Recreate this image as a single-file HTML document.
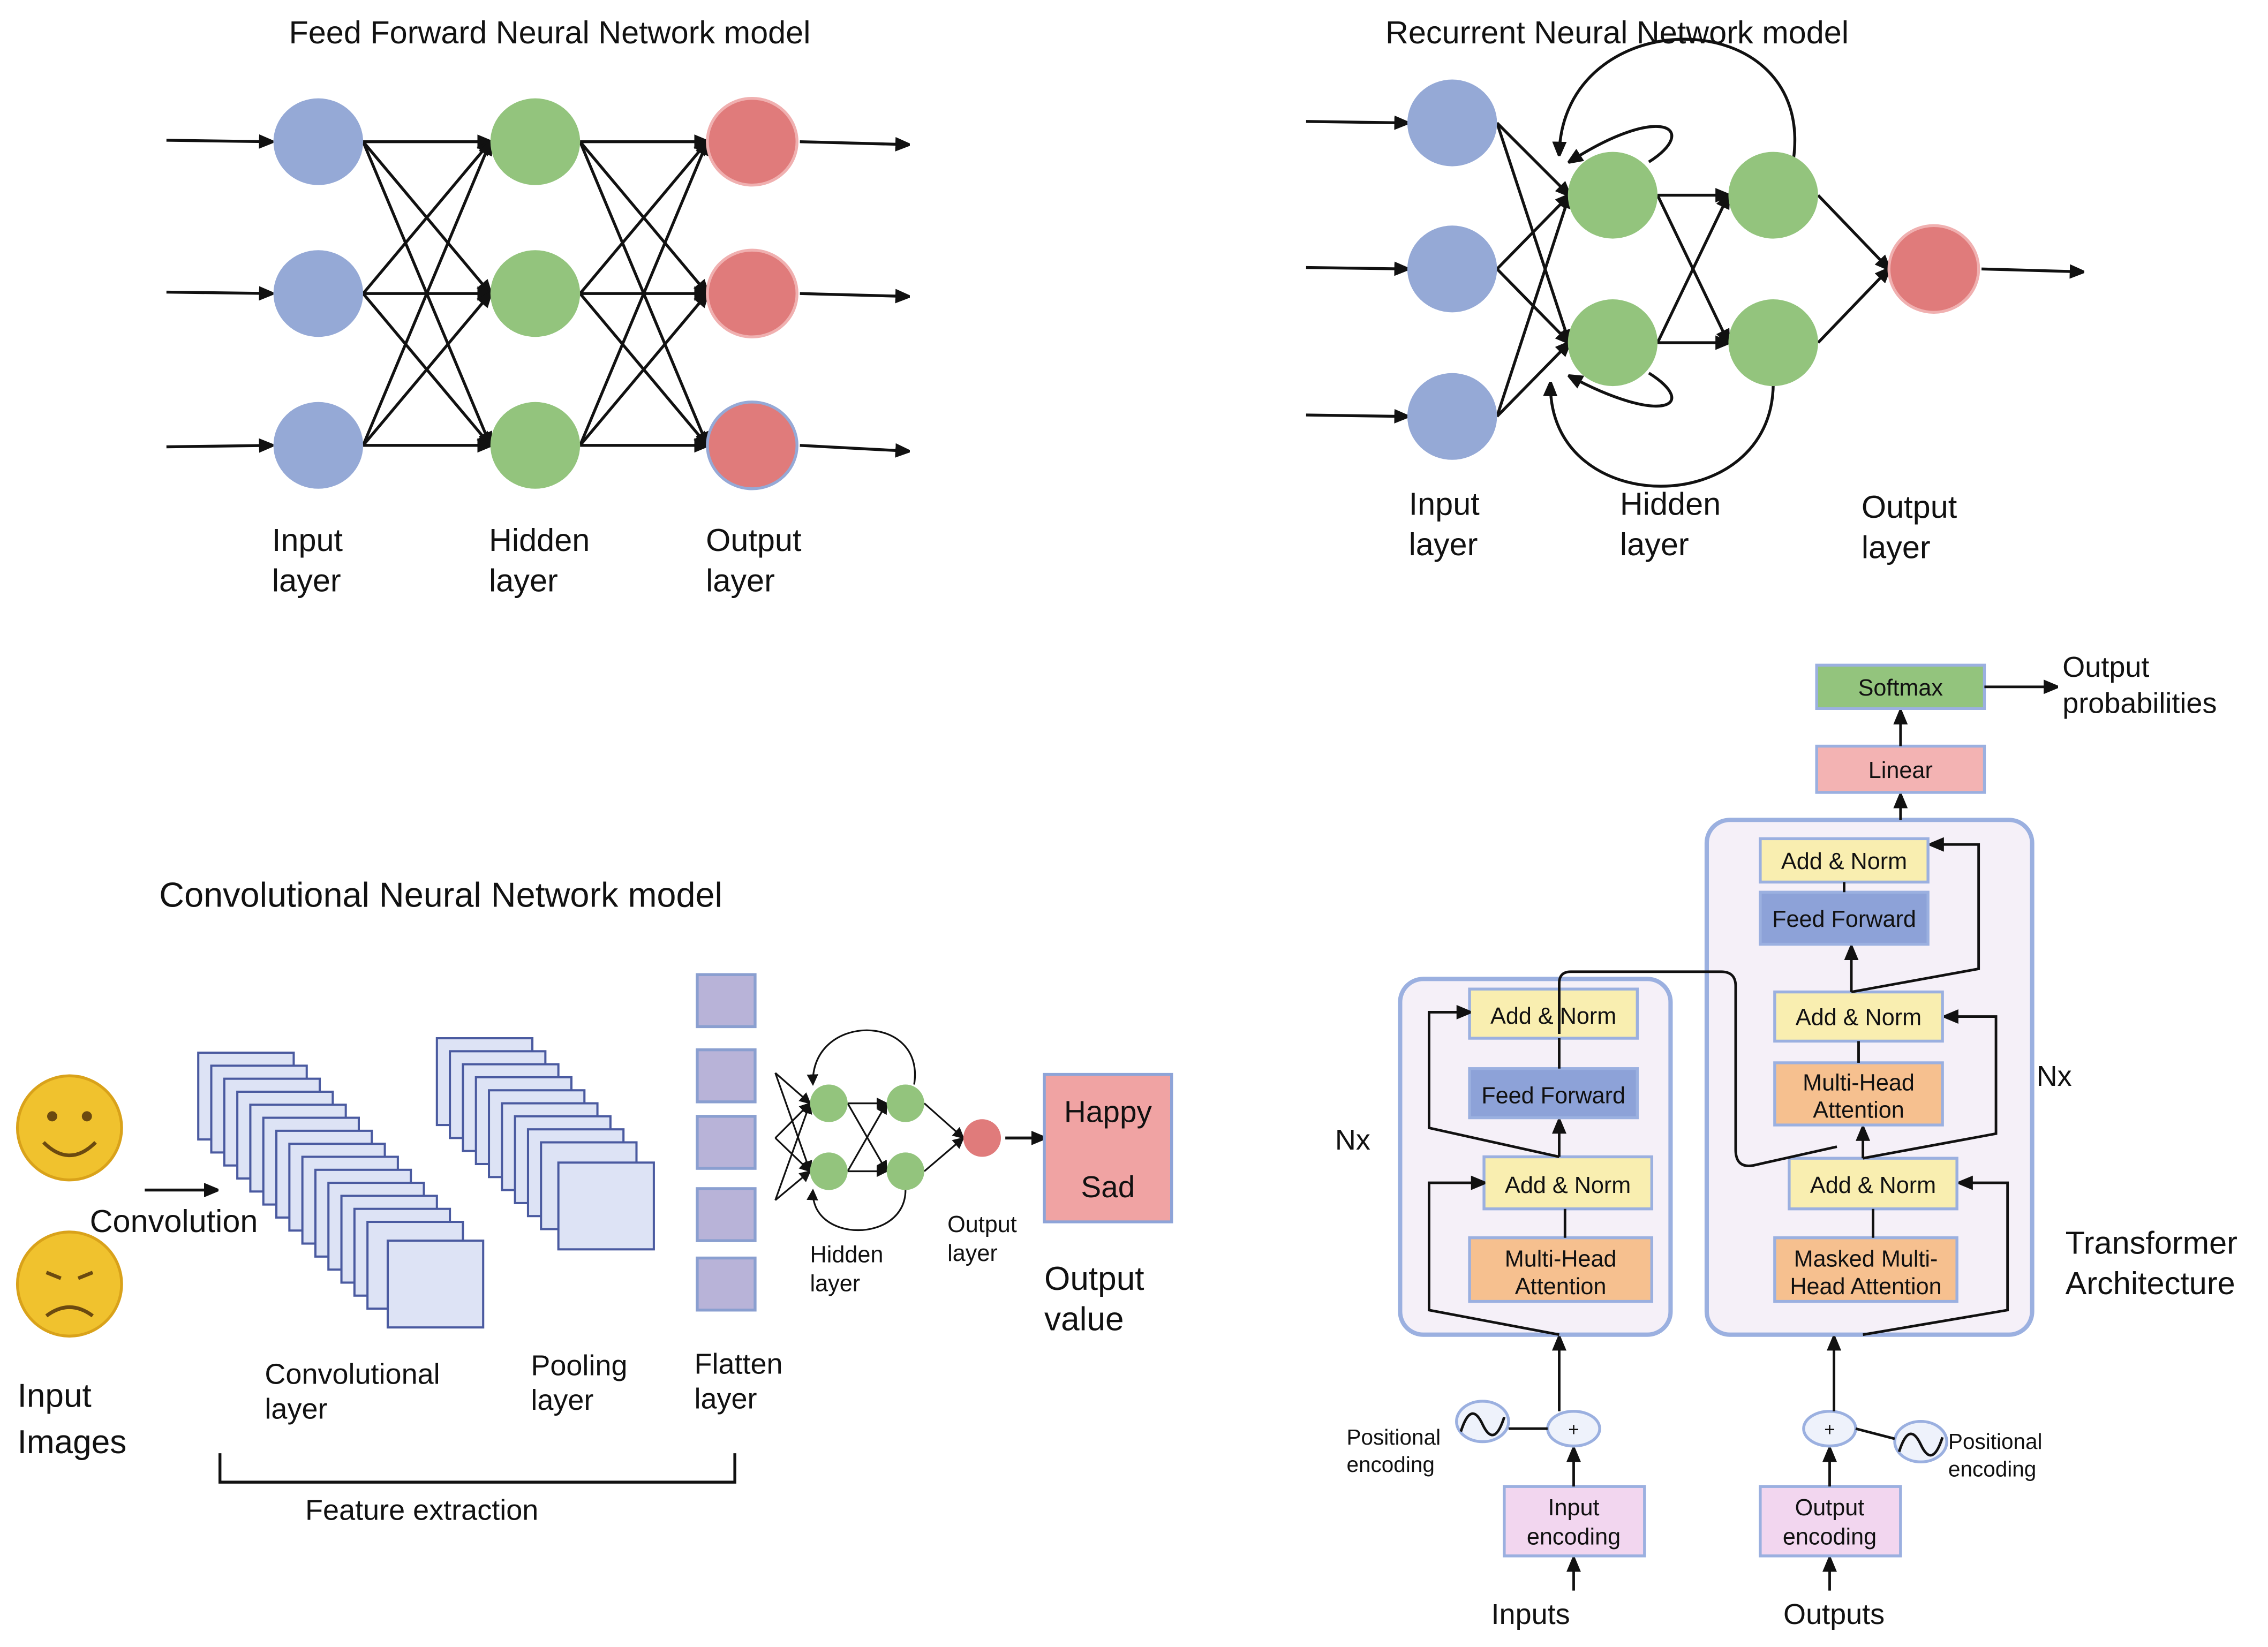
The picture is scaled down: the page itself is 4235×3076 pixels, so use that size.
<!DOCTYPE html>
<html><head><meta charset="utf-8"><style>html,body{margin:0;padding:0;background:#fff}svg{display:block}text{font-family:"Liberation Sans",sans-serif;fill:#111}</style></head><body>
<svg width="4235" height="3076" viewBox="0 0 1568 1139" xmlns="http://www.w3.org/2000/svg">
<defs>
<marker id="a" markerWidth="10" markerHeight="10" refX="9" refY="5" orient="auto" markerUnits="userSpaceOnUse"><path d="M0,0 L12,5 L0,10 z" fill="#111"/></marker>
<marker id="s" markerWidth="8" markerHeight="8" refX="7" refY="4" orient="auto" markerUnits="userSpaceOnUse"><path d="M0,0 L8,4 L0,8 z" fill="#111"/></marker>
</defs>
<rect width="1568" height="1139" fill="#fff"/>
<g stroke="#111" stroke-width="2" fill="none" marker-end="url(#a)">
<!-- FFNN -->
<line x1="115" y1="97" x2="188" y2="98"/><line x1="115" y1="202" x2="188" y2="203"/><line x1="115" y1="309" x2="188" y2="308"/>
<line x1="553" y1="98" x2="628" y2="100"/><line x1="553" y1="203" x2="628" y2="205"/><line x1="553" y1="308" x2="628" y2="312"/>
<line x1="251" y1="98" x2="339" y2="98"/><line x1="251" y1="98" x2="339" y2="203"/><line x1="251" y1="98" x2="339" y2="308"/>
<line x1="251" y1="203" x2="339" y2="98"/><line x1="251" y1="203" x2="339" y2="203"/><line x1="251" y1="203" x2="339" y2="308"/>
<line x1="251" y1="308" x2="339" y2="98"/><line x1="251" y1="308" x2="339" y2="203"/><line x1="251" y1="308" x2="339" y2="308"/>
<line x1="401" y1="98" x2="489" y2="98"/><line x1="401" y1="98" x2="489" y2="203"/><line x1="401" y1="98" x2="489" y2="308"/>
<line x1="401" y1="203" x2="489" y2="98"/><line x1="401" y1="203" x2="489" y2="203"/><line x1="401" y1="203" x2="489" y2="308"/>
<line x1="401" y1="308" x2="489" y2="98"/><line x1="401" y1="308" x2="489" y2="203"/><line x1="401" y1="308" x2="489" y2="308"/>
<!-- RNN -->
<line x1="903" y1="84" x2="973" y2="85"/><line x1="903" y1="185" x2="973" y2="186"/><line x1="903" y1="287" x2="973" y2="288"/>
<line x1="1035" y1="85" x2="1085" y2="135"/><line x1="1035" y1="85" x2="1085" y2="237"/><line x1="1035" y1="186" x2="1085" y2="135"/><line x1="1035" y1="186" x2="1085" y2="237"/><line x1="1035" y1="288" x2="1085" y2="135"/><line x1="1035" y1="288" x2="1085" y2="237"/>
<line x1="1146" y1="135" x2="1195" y2="135"/><line x1="1146" y1="135" x2="1195" y2="237"/><line x1="1146" y1="237" x2="1195" y2="135"/><line x1="1146" y1="237" x2="1195" y2="237"/>
<line x1="1257" y1="135" x2="1306" y2="186"/><line x1="1257" y1="237" x2="1306" y2="186"/>
<line x1="1370" y1="186" x2="1440" y2="188"/>
<path d="M1240 110 C1255 0,1080 0,1078 107"/>
<path d="M1226 265 C1226 360,1070 360,1072 265"/>
<path d="M1140 112 C1175 90,1150 70,1085 112"/>
<path d="M1140 258 C1175 280,1150 295,1085 260"/>
<!-- CNN -->
<line x1="100" y1="823" x2="150" y2="823"/>
<line x1="695" y1="787" x2="722" y2="787"/>
</g>
<g fill="#95a9d6"><ellipse cx="220" cy="98" rx="31" ry="30"/><ellipse cx="220" cy="203" rx="31" ry="30"/><ellipse cx="220" cy="308" rx="31" ry="30"/>
<ellipse cx="1004" cy="85" rx="31" ry="30"/><ellipse cx="1004" cy="186" rx="31" ry="30"/><ellipse cx="1004" cy="288" rx="31" ry="30"/></g>
<g fill="#93c47d"><ellipse cx="370" cy="98" rx="31" ry="30"/><ellipse cx="370" cy="203" rx="31" ry="30"/><ellipse cx="370" cy="308" rx="31" ry="30"/>
<ellipse cx="1115" cy="135" rx="31" ry="30"/><ellipse cx="1115" cy="237" rx="31" ry="30"/><ellipse cx="1226" cy="135" rx="31" ry="30"/><ellipse cx="1226" cy="237" rx="31" ry="30"/></g>
<g fill="#e07b7b" stroke="#f0b0b0" stroke-width="2"><ellipse cx="520" cy="98" rx="31" ry="30"/><ellipse cx="520" cy="203" rx="31" ry="30"/><ellipse cx="520" cy="308" rx="31" ry="30" stroke="#95a9d6"/><ellipse cx="1337" cy="186" rx="31" ry="30"/></g>
<g font-size="22">
<text x="380" y="30" text-anchor="middle">Feed Forward Neural Network model</text>
<text x="1118" y="30" text-anchor="middle">Recurrent Neural Network model</text>
<text x="188" y="381">Input</text><text x="188" y="409">layer</text>
<text x="338" y="381">Hidden</text><text x="338" y="409">layer</text>
<text x="488" y="381">Output</text><text x="488" y="409">layer</text>
<text x="974" y="356">Input</text><text x="974" y="384">layer</text>
<text x="1120" y="356">Hidden</text><text x="1120" y="384">layer</text>
<text x="1287" y="358">Output</text><text x="1287" y="386">layer</text>
</g>
<!-- CNN -->
<text x="110" y="627" font-size="24">Convolutional Neural Network model</text>
<g fill="#f0c22e" stroke="#d9a21a" stroke-width="2"><circle cx="48" cy="780" r="36"/><circle cx="48" cy="888" r="36"/></g>
<g stroke="#6b4a10" stroke-width="2.5" fill="none"><path d="M30 790 Q48 808 66 790"/><path d="M32 910 Q48 898 64 910"/><path d="M32 880 l10 4 M64 880 l-10 4"/></g>
<g fill="#6b4a10"><circle cx="36" cy="772" r="3.5"/><circle cx="60" cy="772" r="3.5"/></g>
<text x="62" y="852" font-size="22">Convolution</text>
<g fill="#dde3f5" stroke="#4a5aa0" stroke-width="1.5">
<rect x="137" y="728" width="66" height="60"/><rect x="146" y="737" width="66" height="60"/><rect x="155" y="746" width="66" height="60"/><rect x="164" y="755" width="66" height="60"/><rect x="173" y="764" width="66" height="60"/><rect x="182" y="773" width="66" height="60"/><rect x="191" y="782" width="66" height="60"/><rect x="200" y="791" width="66" height="60"/><rect x="209" y="800" width="66" height="60"/><rect x="218" y="809" width="66" height="60"/><rect x="227" y="818" width="66" height="60"/><rect x="236" y="827" width="66" height="60"/><rect x="245" y="836" width="66" height="60"/><rect x="254" y="845" width="66" height="60"/><rect x="268" y="858" width="66" height="60"/>
<rect x="302" y="718" width="66" height="60"/><rect x="311" y="727" width="66" height="60"/><rect x="320" y="736" width="66" height="60"/><rect x="329" y="745" width="66" height="60"/><rect x="338" y="754" width="66" height="60"/><rect x="347" y="763" width="66" height="60"/><rect x="356" y="772" width="66" height="60"/><rect x="365" y="781" width="66" height="60"/><rect x="374" y="790" width="66" height="60"/><rect x="386" y="804" width="66" height="60"/>
</g>
<g fill="#b8b3d8" stroke="#8a9fd0" stroke-width="2"><rect x="482" y="674" width="40" height="36"/><rect x="482" y="726" width="40" height="36"/><rect x="482" y="772" width="40" height="36"/><rect x="482" y="822" width="40" height="36"/><rect x="482" y="870" width="40" height="36"/></g>
<g stroke="#111" stroke-width="1.2" fill="none" marker-end="url(#s)">
<line x1="536" y1="742" x2="560" y2="763"/><line x1="536" y1="742" x2="560" y2="810"/><line x1="536" y1="787" x2="560" y2="763"/><line x1="536" y1="787" x2="560" y2="810"/><line x1="536" y1="830" x2="560" y2="763"/><line x1="536" y1="830" x2="560" y2="810"/>
<line x1="586" y1="763" x2="613" y2="763"/><line x1="586" y1="763" x2="613" y2="810"/><line x1="586" y1="810" x2="613" y2="763"/><line x1="586" y1="810" x2="613" y2="810"/>
<line x1="639" y1="763" x2="666" y2="787"/><line x1="639" y1="810" x2="666" y2="787"/>
<path d="M632 750 C640 700,560 700,562 750"/><path d="M626 823 C626 860,560 860,562 823"/>
</g>
<g fill="#93c47d"><circle cx="573" cy="763" r="13"/><circle cx="573" cy="810" r="13"/><circle cx="626" cy="763" r="13"/><circle cx="626" cy="810" r="13"/></g>
<circle cx="679" cy="787" r="13" fill="#e07b7b"/>
<rect x="722" y="743" width="88" height="102" fill="#f0a3a3" stroke="#8ea4d8" stroke-width="2"/>
<text x="766" y="776" font-size="21" text-anchor="middle">Happy</text><text x="766" y="828" font-size="21" text-anchor="middle">Sad</text>
<g font-size="20"><text x="183" y="957">Convolutional</text><text x="183" y="981">layer</text><text x="367" y="951">Pooling</text><text x="367" y="975">layer</text><text x="480" y="950">Flatten</text><text x="480" y="974">layer</text><text x="211" y="1051">Feature extraction</text></g>
<g font-size="16"><text x="560" y="873">Hidden</text><text x="560" y="893">layer</text><text x="655" y="852">Output</text><text x="655" y="872">layer</text></g>
<g font-size="23"><text x="722" y="892">Output</text><text x="722" y="920">value</text><text x="12" y="973">Input</text><text x="12" y="1005">Images</text></g>
<path d="M152 1005 V1025 H508 V1005" stroke="#111" stroke-width="2" fill="none"/>
<!-- Transformer -->
<rect x="968" y="677" width="187" height="246" rx="16" fill="#f5f0f8" stroke="#9bb0e0" stroke-width="3"/>
<rect x="1180" y="567" width="225" height="356" rx="16" fill="#f5f0f8" stroke="#9bb0e0" stroke-width="3"/>
<g stroke="#9bb0e0" stroke-width="2">
<rect x="1016" y="684" width="116" height="34" fill="#f9eeb0"/><rect x="1016" y="739" width="116" height="34" fill="#8da2d8"/><rect x="1026" y="800" width="116" height="36" fill="#f9eeb0"/><rect x="1016" y="856" width="126" height="44" fill="#f6c08f"/>
<rect x="1217" y="580" width="116" height="30" fill="#f9eeb0"/><rect x="1217" y="617" width="116" height="36" fill="#8da2d8"/><rect x="1227" y="686" width="116" height="34" fill="#f9eeb0"/><rect x="1227" y="735" width="116" height="43" fill="#f6c08f"/><rect x="1237" y="801" width="116" height="35" fill="#f9eeb0"/><rect x="1227" y="856" width="126" height="44" fill="#f6c08f"/>
<rect x="1256" y="516" width="116" height="32" fill="#f3b3b3"/><rect x="1256" y="460" width="116" height="30" fill="#93c47d"/>
<rect x="1040" y="1028" width="97" height="48" fill="#f2d6ef"/><rect x="1217" y="1028" width="97" height="48" fill="#f2d6ef"/>
<ellipse cx="1088" cy="988" rx="18" ry="12" fill="#eef2fb"/><ellipse cx="1265" cy="988" rx="18" ry="12" fill="#eef2fb"/>
<ellipse cx="1025" cy="983" rx="18" ry="14" fill="#eef2fb"/><ellipse cx="1328" cy="997" rx="18" ry="14" fill="#eef2fb"/>
</g>
<g stroke="#111" stroke-width="1.8" fill="none"><path d="M1010 990 q7 -22 15 -5 t15 -5"/><path d="M1313 1004 q7 -22 15 -5 t15 -5"/>
<line x1="1043" y1="988" x2="1070" y2="988"/><line x1="1283" y1="988" x2="1310" y2="995"/>
<line x1="1078" y1="718" x2="1078" y2="739"/><line x1="1082" y1="836" x2="1082" y2="856"/><line x1="1275" y1="610" x2="1275" y2="617"/><line x1="1285" y1="720" x2="1285" y2="735"/><line x1="1295" y1="836" x2="1295" y2="856"/>
<path d="M1078 715 V680 Q1078 672 1086 672 H1190 Q1200 672 1200 682 V795 Q1200 808 1212 806 L1270 793"/>
</g>
<g stroke="#111" stroke-width="1.8" fill="none" marker-end="url(#a)">
<line x1="1078" y1="800" x2="1078" y2="775"/>
<path d="M1078 800 L988 780 V700 H1016"/>
<path d="M1078 923 L988 906 V818 H1026"/>
<line x1="1078" y1="976" x2="1078" y2="925"/>
<line x1="1088" y1="1028" x2="1088" y2="1002"/><line x1="1088" y1="1100" x2="1088" y2="1078"/>
<line x1="1288" y1="801" x2="1288" y2="780"/>
<path d="M1288 801 L1380 784 V703 H1345"/>
<line x1="1280" y1="686" x2="1280" y2="655"/>
<path d="M1280 686 L1368 670 V584 H1335"/>
<path d="M1288 923 L1388 906 V818 H1355"/>
<line x1="1268" y1="976" x2="1268" y2="925"/>
<line x1="1265" y1="1028" x2="1265" y2="1002"/><line x1="1265" y1="1100" x2="1265" y2="1078"/>
<line x1="1314" y1="567" x2="1314" y2="550"/><line x1="1314" y1="516" x2="1314" y2="492"/>
<line x1="1372" y1="475" x2="1422" y2="475"/>
</g>
<g font-size="16" text-anchor="middle">
<text x="1074" y="708">Add &amp; Norm</text><text x="1074" y="763">Feed Forward</text><text x="1084" y="825">Add &amp; Norm</text><text x="1079" y="876">Multi-Head</text><text x="1079" y="895">Attention</text>
<text x="1275" y="601">Add &amp; Norm</text><text x="1275" y="641">Feed Forward</text><text x="1285" y="709">Add &amp; Norm</text><text x="1285" y="754">Multi-Head</text><text x="1285" y="773">Attention</text><text x="1295" y="825">Add &amp; Norm</text><text x="1290" y="876">Masked Multi-</text><text x="1290" y="895">Head Attention</text>
<text x="1314" y="538">Linear</text><text x="1314" y="481">Softmax</text>
<text x="1088" y="1048">Input</text><text x="1088" y="1068">encoding</text><text x="1265" y="1048">Output</text><text x="1265" y="1068">encoding</text>
<text x="1088" y="993" font-size="13">+</text><text x="1265" y="993" font-size="13">+</text>
</g>
<g font-size="15"><text x="931" y="999">Positional</text><text x="931" y="1018">encoding</text><text x="1347" y="1002">Positional</text><text x="1347" y="1021">encoding</text></g>
<g font-size="20"><text x="923" y="795">Nx</text><text x="1408" y="751">Nx</text><text x="1426" y="468">Output</text><text x="1426" y="493">probabilities</text><text x="1031" y="1123">Inputs</text><text x="1233" y="1123">Outputs</text></g>
<g font-size="22"><text x="1428" y="867">Transformer</text><text x="1428" y="895">Architecture</text></g>
</svg>
</body></html>
